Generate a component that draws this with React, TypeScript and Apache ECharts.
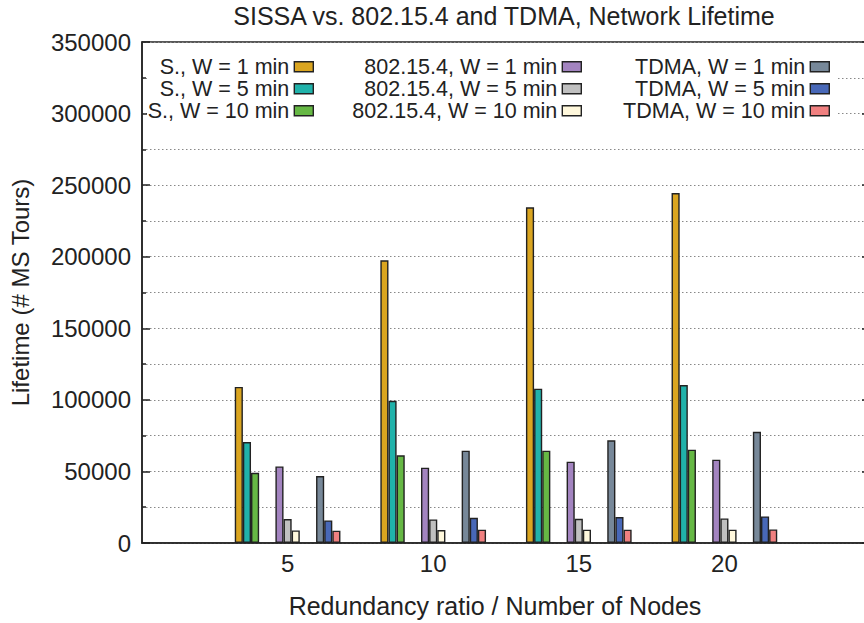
import React, { useEffect, useRef } from "react";
import * as echarts from "echarts";

const categories = ["5", "10", "15", "20"];
const yTicks = { min: 0, max: 350000, interval: 50000 };

const sW1 = [109000, 197500, 234500, 244500];
const sW5 = [70500, 99300, 107800, 110300];
const sW10 = [49000, 61300, 64500, 65200];
const zW1 = [53500, 52600, 56800, 58200];
const zW5 = [16700, 16500, 16900, 17200];
const zW10 = [8800, 9000, 9300, 9300];
const tW1 = [46800, 64500, 71700, 77700];
const tW5 = [15800, 17600, 18100, 18600];
const tW10 = [8600, 9300, 9300, 9500];

const seriesNames = [
  "S., W = 1 min", "S., W = 5 min", "S., W = 10 min",
  "802.15.4, W = 1 min", "802.15.4, W = 5 min", "802.15.4, W = 10 min",
  "TDMA, W = 1 min", "TDMA, W = 5 min", "TDMA, W = 10 min",
];
const seriesValues = [sW1, sW5, sW10, zW1, zW5, zW10, tW1, tW5, tW10];
const colors = [
  "#daa520", "#20b2aa", "#66b844",
  "#a384c0", "#c0c0c0", "#fff8dc",
  "#778899", "#4868b8", "#f08080",
];

const FONT = "'Liberation Sans', Arial, Helvetica, sans-serif";
const INK = "#222";

export default function App() {
  const ref = useRef<HTMLDivElement>(null);
  useEffect(() => {
    if (!ref.current) return;
    const chart = echarts.init(ref.current, null, { renderer: "svg" });
    const xCats = ["", ...categories, ""];
    const barW = 8.13;
    const series: any[] = [];
    let spacer = 0;
    seriesNames.forEach((name, i) => {
      if (i > 0 && i % 3 === 0) {
        for (let k = 0; k < 2; k++) {
          series.push({ type: "bar", name: "__gap" + spacer++, data: [], barWidth: barW, barGap: "0%", silent: true });
        }
      }
      series.push({
        type: "bar",
        name,
        data: [null, ...seriesValues[i], null],
        barWidth: barW,
        barGap: "0%",
        itemStyle: {
          color: colors[i],
          borderColor: INK,
          borderWidth: 1.4,
        },
      });
    });
    const W = 880;
    const legendCommon = {
      orient: "vertical",
      align: "right",
      top: 55.8,
      itemWidth: 19,
      itemHeight: 10,
      itemGap: 0,
      padding: 0,
      icon: "rect",
      selectedMode: false,
      textStyle: { fontFamily: FONT, fontSize: 21.5, color: INK, lineHeight: 19.7 },
      itemStyle: { borderColor: INK, borderWidth: 1.4 },
    };
    chart.setOption({
      animation: false,
      backgroundColor: "#fff",
      grid: {
        left: 138,
        top: 42,
        right: W - 870,
        bottom: 623 - 545,
        show: true,
        borderColor: INK,
        borderWidth: 1.5,
        backgroundColor: "transparent",
      },
      graphic: [
        {
          type: "rect",
          z: 1,
          shape: { x: 147, y: 44, width: 838 - 147, height: 80 },
          style: { fill: "#fff" },
          silent: true,
        },
        {
          type: "text",
          z: 5,
          x: 504,
          y: 16,
          style: {
            text: "SISSA vs. 802.15.4 and TDMA, Network Lifetime",
            align: "center",
            verticalAlign: "middle",
            font: `25px ${FONT}`,
            fill: INK,
          },
        },
      ],
      legend: [
        { ...legendCommon, right: W - 314, data: seriesNames.slice(0, 3) },
        { ...legendCommon, right: W - 582, data: seriesNames.slice(3, 6) },
        { ...legendCommon, right: W - 830, data: seriesNames.slice(6, 9) },
      ],
      xAxis: {
        type: "category",
        data: xCats,
        boundaryGap: false,
        axisLine: { lineStyle: { color: INK, width: 1.5 } },
        axisTick: { show: false },
        axisLabel: { interval: 0, fontFamily: FONT, fontSize: 24, color: INK, margin: 8 },
        splitLine: { show: false },
        name: "Redundancy ratio / Number of Nodes",
        nameLocation: "middle",
        nameGap: 50,
        nameTextStyle: { fontFamily: FONT, fontSize: 25, color: INK, padding: [0, 22, 0, 0] },
      },
      yAxis: [
        {
          type: "value",
          min: yTicks.min,
          max: yTicks.max,
          interval: yTicks.interval,
          axisLine: { show: true, lineStyle: { color: INK, width: 1.5 } },
          axisTick: { show: true, inside: true, length: 8, lineStyle: { color: INK, width: 1.5 } },
          minorTick: { show: true, splitNumber: 2, length: 4, lineStyle: { color: INK, width: 1.5 } },
          axisLabel: { fontFamily: FONT, fontSize: 24, color: INK, margin: 11, formatter: (v: number) => String(v) },
          splitLine: { show: true, lineStyle: { color: "#888", width: 1, type: [1.5, 2.5] } },
          minorSplitLine: { show: true, lineStyle: { color: "#888", width: 1, type: [1.5, 2.5] } },
          name: "Lifetime (# MS Tours)",
          nameLocation: "middle",
          nameGap: 110,
          nameRotate: 90,
          nameTextStyle: { fontFamily: FONT, fontSize: 24, color: INK },
        },
        {
          type: "value",
          position: "right",
          min: yTicks.min,
          max: yTicks.max,
          interval: yTicks.interval,
          axisLine: { show: false },
          axisTick: { show: true, inside: true, length: 8, lineStyle: { color: INK, width: 1.5 } },
          minorTick: { show: true, splitNumber: 2, length: 4, lineStyle: { color: INK, width: 1.5 } },
          axisLabel: { show: false },
          splitLine: { show: false },
        },
      ],
      series,
    });
    return () => chart.dispose();
  }, []);
  return (
    <div
      ref={ref}
      style={{ position: "fixed", left: 0, top: 0, width: 880, height: 623, background: "#fff" }}
    />
  );
}
